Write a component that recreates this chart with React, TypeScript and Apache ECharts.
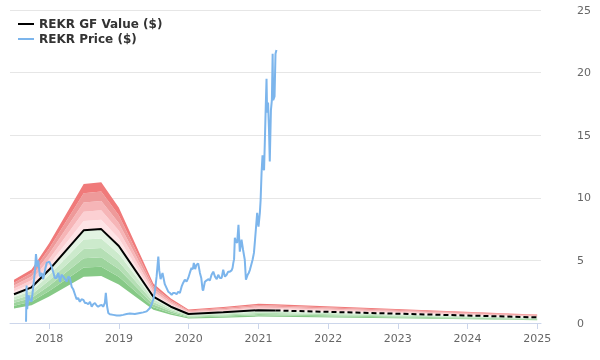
import React, { useEffect, useRef } from "react";
import * as echarts from "echarts";

// GF Value (historical, solid)
const gfDates = [
  "2017-06-30", "2017-09-30", "2017-12-31", "2018-06-30", "2018-09-30", "2018-12-31",
  "2019-06-30", "2019-09-30", "2019-12-31", "2020-06-30", "2020-12-31", "2021-03-31",
];
const gfValues = [2.3, 2.85, 4.25, 7.4, 7.5, 6.15, 2.1, 1.3, 0.72, 0.85, 1.02, 1.0];

// GF Value (projection, dashed)
const gfForecastDates = ["2021-03-31", "2024-12-31"];
const gfForecastValues = [1.0, 0.45];

// Band edges as multiples of GF Value (bottom to top)
const bandEdges = [0.5, 0.6, 0.7, 0.8, 0.9, 1.0, 1.1, 1.2, 1.3, 1.4, 1.5];
const bandColors = [
  "#86c986", "#9dd49d", "#b5dfb5", "#cceacc", "#e2f3e2",
  "#fee4e6", "#fcd0d3", "#f6b5b7", "#ee9a9a", "#f07a7a",
];

// Price
const priceDates = [
  "2017-09-01", "2017-09-04", "2017-09-07", "2017-09-14", "2017-09-21", "2017-09-30",
  "2017-10-09", "2017-10-18", "2017-10-23", "2017-10-30", "2017-11-04", "2017-11-13",
  "2017-11-22", "2017-11-30", "2017-12-09", "2017-12-18", "2018-01-01", "2018-01-13",
  "2018-01-21", "2018-01-30", "2018-02-08", "2018-02-17", "2018-02-26", "2018-03-06",
  "2018-03-15", "2018-03-24", "2018-04-02", "2018-04-10", "2018-04-19", "2018-04-28",
  "2018-05-06", "2018-05-15", "2018-05-24", "2018-06-01", "2018-06-10", "2018-06-19",
  "2018-06-28", "2018-07-07", "2018-07-15", "2018-07-24", "2018-08-02", "2018-08-11",
  "2018-08-19", "2018-08-28", "2018-09-06", "2018-09-14", "2018-09-23", "2018-10-02",
  "2018-10-10", "2018-10-19", "2018-10-24", "2018-10-31", "2018-11-06", "2018-11-14",
  "2018-12-02", "2018-12-20", "2019-01-06", "2019-01-23", "2019-02-10", "2019-02-27",
  "2019-03-25", "2019-04-21", "2019-05-08", "2019-05-26", "2019-06-12", "2019-06-21",
  "2019-06-30", "2019-07-08", "2019-07-17", "2019-07-26", "2019-07-31", "2019-08-07",
  "2019-08-17", "2019-08-29", "2019-09-07", "2019-09-16", "2019-09-25", "2019-10-04",
  "2019-10-12", "2019-10-21", "2019-10-30", "2019-11-07", "2019-11-16", "2019-11-25",
  "2019-12-03", "2019-12-12", "2019-12-21", "2019-12-30", "2020-01-07", "2020-01-16",
  "2020-01-23", "2020-01-28", "2020-02-04", "2020-02-11", "2020-02-20", "2020-02-29",
  "2020-03-07", "2020-03-14", "2020-03-17", "2020-03-26", "2020-04-04", "2020-04-12",
  "2020-04-21", "2020-04-30", "2020-05-09", "2020-05-18", "2020-05-27", "2020-06-04",
  "2020-06-13", "2020-06-22", "2020-06-30", "2020-07-09", "2020-07-18", "2020-07-26",
  "2020-08-04", "2020-08-13", "2020-08-18", "2020-08-22", "2020-08-26", "2020-08-30",
  "2020-09-04", "2020-09-11", "2020-09-18", "2020-09-25", "2020-10-04", "2020-10-12",
  "2020-10-21", "2020-10-27", "2020-11-05", "2020-11-11", "2020-11-17", "2020-11-23",
  "2020-12-01", "2020-12-08", "2020-12-13", "2020-12-18", "2020-12-25", "2021-01-01",
  "2021-01-08", "2021-01-12", "2021-01-17", "2021-01-22", "2021-01-25", "2021-01-30",
  "2021-02-03", "2021-02-07", "2021-02-12", "2021-02-15", "2021-02-20", "2021-02-25",
  "2021-03-01", "2021-03-07", "2021-03-12", "2021-03-16", "2021-03-19", "2021-03-26",
  "2021-03-31", "2021-04-05",
];
const priceValues = [
  0.1, 3.0, 1.1, 2.2, 1.9, 1.7,
  2.9, 4.2, 5.5, 4.5, 5.0, 3.7,
  4.0, 3.5, 4.2, 4.8, 4.9, 4.5,
  4.1, 3.6, 3.6, 4.0, 3.3, 3.85,
  3.7, 3.5, 3.3, 3.7, 3.6, 2.9,
  2.7, 2.3, 1.9, 2.0, 1.7, 1.9,
  1.85, 1.6, 1.6, 1.5, 1.7, 1.3,
  1.5, 1.6, 1.4, 1.3, 1.4, 1.45,
  1.3, 1.6, 2.4, 1.3, 0.8, 0.7,
  0.65, 0.6, 0.6, 0.65, 0.72, 0.75,
  0.72, 0.8, 0.85, 0.93, 1.2, 1.5,
  1.9, 2.5, 3.7, 5.3, 4.2, 3.5,
  4.0, 3.1, 2.8, 2.5, 2.4, 2.25,
  2.4, 2.4, 2.3, 2.5, 2.4, 2.9,
  3.2, 3.46, 3.3, 3.6, 4.0, 4.4,
  4.3, 4.8, 4.3, 4.65, 4.75, 4.0,
  3.6, 2.66, 2.6, 3.3, 3.4, 3.5,
  3.4, 3.85, 4.1, 3.7, 3.5, 3.85,
  3.6, 3.6, 4.25, 3.7, 3.85, 4.1,
  4.1, 4.2, 4.4, 4.8, 5.1, 6.8,
  6.5, 6.4, 7.85, 5.7, 6.65, 5.85,
  5.05, 3.46, 3.85, 4.0, 4.25, 4.6,
  5.05, 5.6, 6.5, 7.45, 8.8, 7.7,
  8.8, 9.8, 12.0, 13.4, 12.5, 12.2,
  14.4, 16.8, 19.5, 16.8, 17.6, 15.4,
  12.9, 17.0, 17.8, 21.5, 17.8, 18.1,
  21.5, 21.8,
];

const yTicks = [0, 5, 10, 15, 20, 25];

const GF_NAME = "REKR GF Value ($)";
const PRICE_NAME = "REKR Price ($)";

export default function App() {
  const ref = useRef<HTMLDivElement>(null);

  useEffect(() => {
    if (!ref.current) return;
    const chart = echarts.init(ref.current, undefined, { renderer: "svg" });

    const bandDates = gfDates.concat(gfForecastDates.slice(1));
    const bandGf = gfValues.concat(gfForecastValues.slice(1));

    const bandSeries: any[] = [];
    bandSeries.push({
      type: "line",
      name: "band-base",
      stack: "band",
      data: bandDates.map((d, i) => [d, bandGf[i] * bandEdges[0]]),
      showSymbol: false,
      lineStyle: { width: 0, opacity: 0 },
      silent: true,
      z: 1,
    });
    for (let k = 0; k < bandColors.length; k++) {
      const thick = bandEdges[k + 1] - bandEdges[k];
      bandSeries.push({
        type: "line",
        name: "band-" + k,
        stack: "band",
        data: bandDates.map((d, i) => [d, bandGf[i] * thick]),
        showSymbol: false,
        lineStyle: { width: 0, opacity: 0 },
        areaStyle: { color: bandColors[k], opacity: 1 },
        silent: true,
        z: 1,
      });
    }

    chart.setOption({
      animation: false,
      textStyle: { fontFamily: "DejaVu Sans" },
      grid: { left: 10, right: 59, top: 10, bottom: 37, containLabel: false },
      legend: {
        data: [
          { name: GF_NAME, icon: "rect" },
          { name: PRICE_NAME, icon: "rect" },
        ],
        orient: "vertical",
        left: 13,
        top: 13,
        itemWidth: 16,
        itemHeight: 2,
        itemGap: 3,
        textStyle: { fontWeight: "bold", fontSize: 12, color: "#333", fontFamily: "DejaVu Sans" },
      },
      xAxis: {
        type: "time",
        min: "2017-06-09",
        max: "2025-01-20",
        minInterval: 365 * 24 * 3600 * 1000,
        maxInterval: 366 * 24 * 3600 * 1000,
        splitLine: { show: false },
        axisLine: { lineStyle: { color: "#ccd6eb" } },
        axisTick: { show: true, length: 6, lineStyle: { color: "#ccd6eb" } },
        axisLabel: {
          color: "#666",
          fontSize: 11,
          margin: 10,
          showMinLabel: false,
          showMaxLabel: false,
          formatter: (v: number) => String(new Date(v).getFullYear()),
        },
      },
      yAxis: {
        type: "value",
        position: "right",
        min: yTicks[0],
        max: yTicks[yTicks.length - 1],
        interval: 5,
        axisLine: { show: false },
        axisTick: { show: false },
        splitLine: { lineStyle: { color: "#e6e6e6" } },
        axisLabel: { color: "#666", fontSize: 11, margin: 36 },
      },
      series: [
        ...bandSeries,
        {
          type: "line",
          name: GF_NAME,
          data: gfDates.map((d, i) => [d, gfValues[i]]),
          showSymbol: false,
          color: "#000",
          lineStyle: { color: "#000", width: 2 },
          z: 3,
        },
        {
          type: "line",
          name: GF_NAME,
          data: gfForecastDates.map((d, i) => [d, gfForecastValues[i]]),
          showSymbol: false,
          color: "#000",
          lineStyle: { color: "#000", width: 2, type: [5, 3] },
          z: 3,
        },
        {
          type: "line",
          name: PRICE_NAME,
          data: priceDates.map((d, i) => [d, priceValues[i]]),
          showSymbol: false,
          color: "#7cb5ec",
          lineStyle: { color: "#7cb5ec", width: 2 },
          z: 4,
        },
      ],
    });

    return () => chart.dispose();
  }, []);

  return (
    <div
      ref={ref}
      style={{ position: "fixed", left: 0, top: 0, width: 600, height: 360 }}
    />
  );
}
